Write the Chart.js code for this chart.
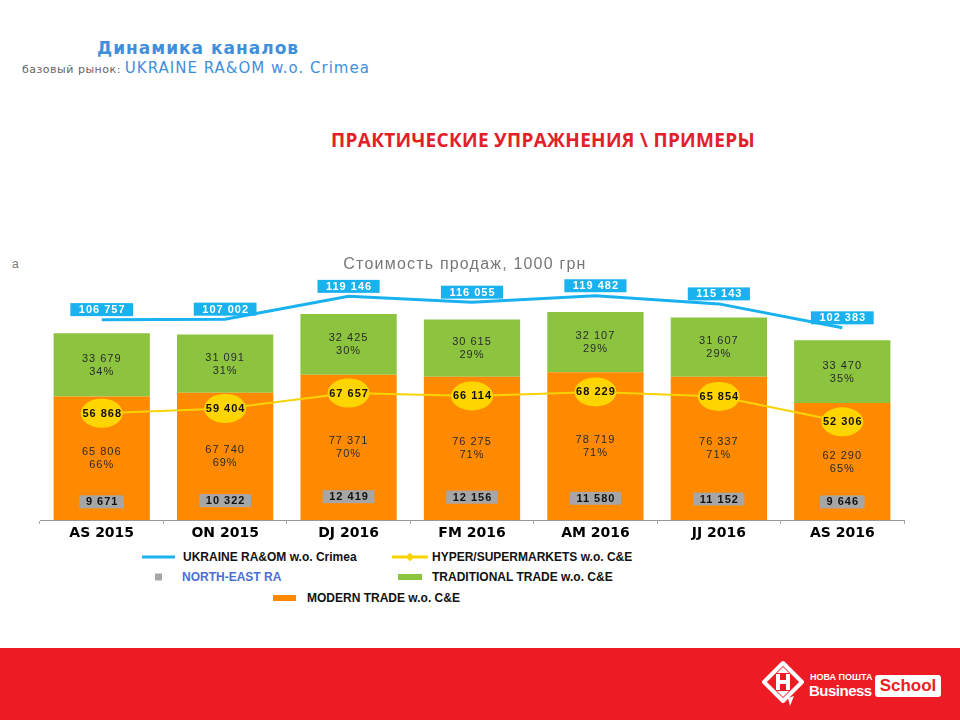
<!DOCTYPE html>
<html>
<head>
<meta charset="utf-8">
<script src="https://cdn.jsdelivr.net/npm/chart.js@4.4.1/dist/chart.umd.min.js"></script>
<style>
  body { margin: 0; width: 960px; height: 720px; position: relative; background: #fff; overflow: hidden; font-family: "Liberation Sans", Arial, sans-serif; }
  .abs { position: absolute; white-space: nowrap; }
  #head1 { left: 97px; top: 38px; font-size: 17px; letter-spacing: 1px; font-weight: bold; color: #3f8fdc; font-family: "DejaVu Sans", sans-serif; }
  #head2 { left: 22px; top: 59px; font-size: 11px; letter-spacing: 0.5px; color: #666; font-family: "DejaVu Sans", sans-serif; }
  #head2 span { font-size: 15px; letter-spacing: 1px; color: #3f8fdc; }
  #redTitle { left: 0; width: 1086px; top: 127px; text-align: center; font-size: 19px; letter-spacing: 0.3px; font-weight: bold; color: #e3202a; font-family: "Open Sans", "Liberation Sans", sans-serif; }
  #chartTitle { left: 0; width: 930px; top: 255px; text-align: center; font-size: 16px; letter-spacing: 1.2px; color: #777; }
  #stray { left: 12px; top: 257px; font-size: 12px; color: #777; }
  #wrap { position: absolute; left: 0; top: 250px; width: 960px; height: 300px; }
  .lg { position: absolute; font-size: 12px; font-weight: bold; color: #111; white-space: nowrap; transform: translateY(-50%); }
  .sw { position: absolute; transform: translateY(-50%); }
  #footer { left: 0; top: 648px; width: 960px; height: 72px; background: #ed1c24; }
</style>
</head>
<body>
<div id="head1" class="abs">Динамика каналов</div>
<div id="head2" class="abs">базовый рынок: <span>UKRAINE RA&amp;OM w.o. Crimea</span></div>
<div id="redTitle" class="abs">ПРАКТИЧЕСКИЕ УПРАЖНЕНИЯ \ ПРИМЕРЫ</div>
<div id="stray" class="abs">а</div>
<div id="wrap"><canvas id="chart"></canvas></div>
<div id="chartTitle" class="abs">Стоимость продаж, 1000 грн</div>
<div id="legend"></div>
<div id="footer" class="abs">
  <svg class="abs" style="left:760px;top:12px" width="46" height="48" viewBox="0 0 46 48">
    <path d="M23 3 L42 22 L23 41 L4 22 Z" fill="none" stroke="#fff" stroke-width="4" stroke-linejoin="round"/>
    <path d="M28 38 L30 46 L34 36 Z" fill="#fff"/>
    <rect x="16" y="14" width="4" height="16" fill="#fff"/>
    <rect x="26" y="14" width="4" height="16" fill="#fff"/>
    <rect x="16" y="20" width="14" height="4" fill="#fff"/>
    <path d="M23 7 L17 13 L29 13 Z" fill="#fff"/>
    <path d="M23 37 L17 31 L29 31 Z" fill="#fff"/>
  </svg>
  <div class="abs" style="left:810px;top:24px;font-size:9px;font-weight:bold;color:#fff;">НОВА ПОШТА</div>
  <div class="abs" style="left:809px;top:34px;font-size:15px;font-weight:bold;color:#fff;letter-spacing:-0.5px;">Business</div>
  <div class="abs" style="left:875px;top:27px;width:66px;height:22px;background:#fff;border-radius:3px;color:#ed1c24;font-size:17px;font-weight:bold;text-align:center;line-height:22px;">School</div>
</div>
<script>
const categories = ['AS 2015', 'ON 2015', 'DJ 2016', 'FM 2016', 'AM 2016', 'JJ 2016', 'AS 2016'];
const ukraineTotal = [106757, 107002, 119146, 116055, 119482, 115143, 102383];
const hyperSuper = [56868, 59404, 67657, 66114, 68229, 65854, 52306];
const northEast = [9671, 10322, 12419, 12156, 11580, 11152, 9646];
const traditional = [33679, 31091, 32425, 30615, 32107, 31607, 33470];
const modern = [65806, 67740, 77371, 76275, 78719, 76337, 62290];
const traditionalPct = [34, 31, 30, 29, 29, 29, 35];
const modernPct = [66, 69, 70, 71, 71, 71, 65];

const fmt = v => String(v).replace(/\B(?=(\d{3})+(?!\d))/g, ' ');
const FONT = '"Liberation Sans", Arial, sans-serif';

// labels drawn on top of the marks
const valueLabels = {
    id: 'valueLabels',
    afterDatasetsDraw(chart) {
        const ctx = chart.ctx;
        ctx.save();
        ctx.textAlign = 'center';
        ctx.textBaseline = 'middle';
        ctx.letterSpacing = '1px';
        chart.data.datasets.forEach((ds, i) => {
            const meta = chart.getDatasetMeta(i);
            meta.data.forEach((el, j) => {
                const v = ds.data[j];
                if (ds.labelKind === 'bar') {
                    const cy = (el.y + el.base) / 2;
                    ctx.font = '11px ' + FONT;
                    ctx.fillStyle = '#2a2a2a';
                    ctx.fillText(fmt(v), el.x, cy - 6);
                    ctx.fillText(ds.pct[j] + '%', el.x, cy + 7);
                } else if (ds.labelKind === 'box') {
                    ctx.font = 'bold 11px ' + FONT;
                    const w = ctx.measureText(fmt(v)).width + ds.boxPad * 2;
                    const cy = el.y - ds.boxShift;
                    ctx.fillStyle = ds.boxColor;
                    ctx.fillRect(el.x - w / 2, cy - 6.5, w, 13);
                    ctx.fillStyle = ds.boxText;
                    ctx.fillText(fmt(v), el.x + 0.5, cy + 0.5);
                } else if (ds.labelKind === 'ellipse') {
                    ctx.fillStyle = '#ffd500';
                    ctx.beginPath();
                    ctx.ellipse(el.x, el.y, 21, 14.5, 0, 0, Math.PI * 2);
                    ctx.fill();
                    ctx.font = 'bold 11px ' + FONT;
                    ctx.fillStyle = '#111';
                    ctx.fillText(fmt(v), el.x + 0.5, el.y + 0.5);
                }
            });
        });
        ctx.restore();
    }
};

const chart = new Chart(document.getElementById('chart'), {
    type: 'bar',
    data: {
        labels: categories,
        datasets: [
            {
                type: 'line', label: 'UKRAINE RA&OM w.o. Crimea', data: ukraineTotal, stack: 'total',
                borderColor: '#19b2ef', borderWidth: 3, pointRadius: 0, tension: 0,
                labelKind: 'box', boxColor: '#19b2ef', boxText: '#fff', boxPad: 8, boxShift: 10,
                legendKind: 'line'
            },
            {
                type: 'line', label: 'HYPER/SUPERMARKETS w.o. C&E', data: hyperSuper, stack: 'hyper',
                borderColor: '#f7d300', borderWidth: 2, pointRadius: 0, tension: 0,
                labelKind: 'ellipse', legendKind: 'lineMarker'
            },
            {
                type: 'line', label: 'NORTH-EAST RA', data: northEast, stack: 'ne',
                showLine: false, borderColor: '#a6a6a6', backgroundColor: '#a6a6a6', pointRadius: 0,
                labelKind: 'box', boxColor: '#a6a6a6', boxText: '#111', boxPad: 6, boxShift: 0,
                legendKind: 'square', legendColor: '#4a6fd6'
            },
            {
                label: 'TRADITIONAL TRADE w.o. C&E', data: traditional, stack: 'bars', order: 2,
                backgroundColor: '#8cc43f', pct: traditionalPct, labelKind: 'bar', legendKind: 'rect'
            },
            {
                label: 'MODERN TRADE w.o. C&E', data: modern, stack: 'bars', order: 1,
                backgroundColor: '#ff8a00', pct: modernPct, labelKind: 'bar', legendKind: 'rect'
            }
        ]
    },
    options: {
        responsive: true,
        maintainAspectRatio: false,
        animation: false,
        layout: { padding: { left: 40, right: 56, top: 26, bottom: 0 } },
        datasets: { bar: { categoryPercentage: 1, barPercentage: 0.78 } },
        scales: {
            x: {
                stacked: true,
                grid: { display: true, drawOnChartArea: false, drawTicks: true, tickLength: 4, color: '#aaa', offset: true },
                border: { display: true, color: '#999', width: 1 },
                ticks: { color: '#000', font: { family: '"DejaVu Sans", sans-serif', size: 14, weight: 'bold' }, padding: 1 },
                afterFit: s => { s.height = 30; }
            },
            y: { stacked: true, display: false, min: 0, max: 130000 }
        },
        plugins: {
            legend: { display: false },
            tooltip: { enabled: false },
            title: { display: false }
        }
    },
    plugins: [valueLabels]
});

// html legend placed like the original
const legendPos = [
    { sx: 142, sw: 33, tx: 183, y: 557 },
    { sx: 392, sw: 36, tx: 432, y: 557 },
    { sx: 155, sw: 7, tx: 182, y: 577 },
    { sx: 398, sw: 24, tx: 432, y: 577 },
    { sx: 273, sw: 23, tx: 307, y: 598 }
];
const legend = document.getElementById('legend');
chart.data.datasets.forEach((ds, i) => {
    const p = legendPos[i];
    const color = ds.type === 'line' ? ds.borderColor : ds.backgroundColor;
    let h = 6;
    if (ds.legendKind === 'line' || ds.legendKind === 'lineMarker') h = 3;
    if (ds.legendKind === 'square') h = 7;
    const sw = document.createElement('div');
    sw.className = 'sw';
    sw.style.cssText = `left:${p.sx}px;top:${p.y}px;width:${p.sw}px;height:${h}px;background:${color};`;
    legend.appendChild(sw);
    if (ds.legendKind === 'lineMarker') {
        const m = document.createElement('div');
        m.className = 'sw';
        m.style.cssText = `left:${p.sx + p.sw / 2 - 3}px;top:${p.y - 3}px;width:6px;height:6px;background:${color};transform:rotate(45deg);`;
        legend.appendChild(m);
    }
    const t = document.createElement('div');
    t.className = 'lg';
    t.style.left = p.tx + 'px';
    t.style.top = p.y + 'px';
    if (ds.legendColor) t.style.color = ds.legendColor;
    t.textContent = ds.label;
    legend.appendChild(t);
});
</script>
</body>
</html>
